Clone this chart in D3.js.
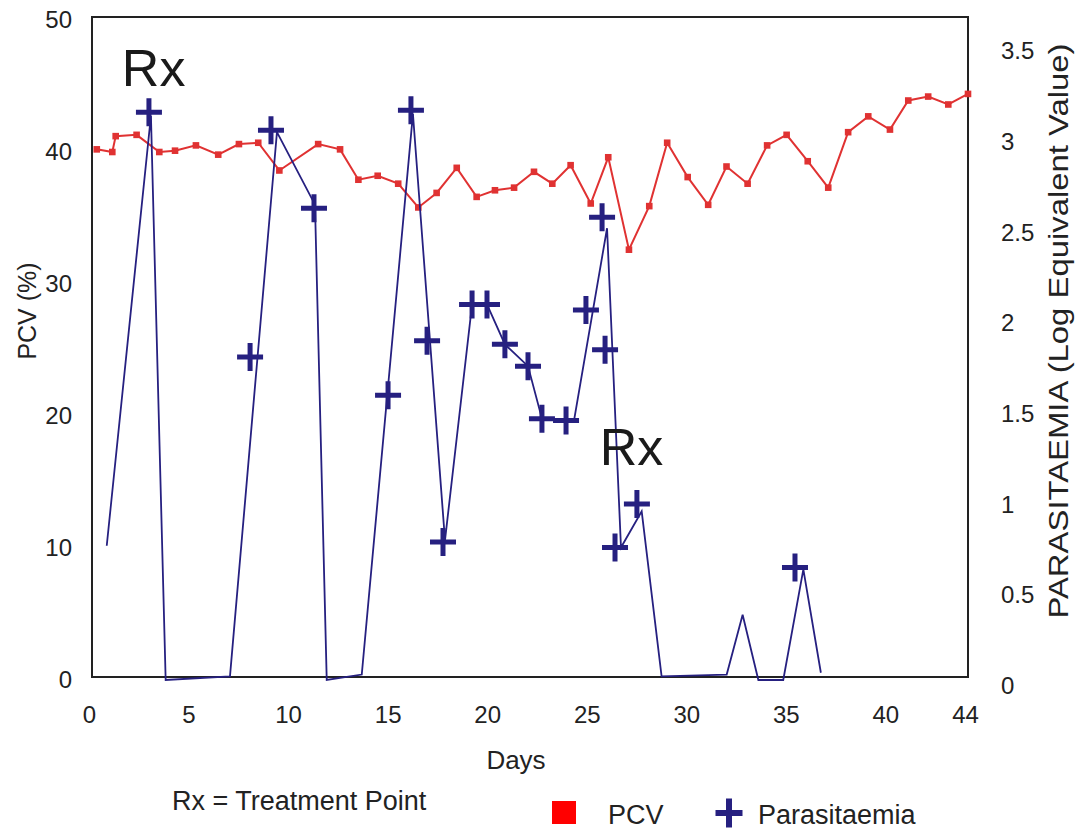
<!DOCTYPE html>
<html>
<head>
<meta charset="utf-8">
<script src="https://cdn.jsdelivr.net/npm/d3@7"></script>
<style>
  html, body { margin: 0; padding: 0; background: #fff; }
  svg { display: block; font-family: "Liberation Sans", Arial, sans-serif; }
</style>
</head>
<body>
<svg id="chart" width="1081" height="834"></svg>
<script>
// ---- data ----
const xTicks = [0, 5, 10, 15, 20, 25, 30, 35, 40, 44];
const leftTicks = [0, 10, 20, 30, 40, 50];
const rightTicks = [0, 0.5, 1, 1.5, 2, 2.5, 3, 3.5];

const pcvDays = [0.24,1.02,1.19,2.24,3.38,4.17,5.22,6.34,7.38,8.35,9.41,11.36,12.46,13.38,14.35,15.38,16.39,17.31,18.32,19.32,20.24,21.20,22.20,23.12,24.04,25.05,25.93,26.97,27.99,28.89,29.92,30.95,31.87,32.93,33.91,34.89,35.95,36.98,37.98,38.99,40.08,41.00,42.00,43.01,44.0];
const pcvValues = [40.2,40.0,41.2,41.3,40.0,40.1,40.5,39.8,40.6,40.7,38.6,40.6,40.2,37.9,38.2,37.6,35.8,36.9,38.8,36.6,37.1,37.3,38.5,37.6,39.0,36.1,39.6,32.6,35.9,40.7,38.1,36.0,38.9,37.6,40.5,41.3,39.3,37.3,41.5,42.7,41.7,43.9,44.2,43.6,44.4];

const paraLineDays = [0.74,2.96,3.70,6.93,9.29,11.2,11.79,13.55,16.12,17.73,19.09,19.84,20.74,21.90,22.60,23.81,24.21,25.87,26.57,27.61,28.61,31.88,32.68,33.47,34.72,35.73,36.61];
const paraLineValues = [0.74,3.11,0,0.02,3.02,2.62,0,0.03,3.12,0.77,2.07,2.07,1.85,1.73,1.44,1.43,1.43,2.49,0.73,0.93,0.02,0.03,0.36,0,0,0.61,0.04];

const paraMarkDays = [2.86,7.94,8.99,11.15,14.87,16.02,16.83,17.63,19.09,19.84,20.74,21.90,22.60,23.81,24.81,25.62,25.77,26.27,27.37,35.31];
const paraMarkValues = [3.13,1.78,3.03,2.60,1.57,3.14,1.87,0.76,2.07,2.07,1.85,1.73,1.44,1.43,2.04,2.55,1.82,0.73,0.97,0.62];

const treatmentLabels = [
  {text: "Rx", day: 1.5, pcv: 45},
  {text: "Rx", day: 25.5, pcv: 16.3}
];

// ---- layout ----
const svg = d3.select("#chart");
const plot = {left: 92, right: 968, top: 17, bottom: 677};
const RED = "#e03232", NAVY = "#262080", TXT = "#222";

const x = d3.scaleLinear().domain([0, 44]).range([plot.left, plot.right]);
const yL = d3.scaleLinear().domain([0, 50]).range([680, 20]);
const yR = d3.scaleLinear().domain([0, 3.5]).range([680, 45]);

// frame
svg.append("rect")
  .attr("x", plot.left).attr("y", plot.top)
  .attr("width", plot.right - plot.left).attr("height", plot.bottom - plot.top)
  .attr("fill", "none").attr("stroke", "#222").attr("stroke-width", 2);

// axes (labels only)
function styleAxis(g) {
  g.select(".domain").remove();
  g.selectAll("line").remove();
  g.selectAll("text").attr("fill", TXT).style("font-size", "24px")
    .style("font-family", '"Liberation Sans", Arial, sans-serif');
}
svg.append("g").attr("transform", "translate(72,0)")
  .call(d3.axisLeft(yL).tickValues(leftTicks).tickSize(0).tickPadding(0).tickFormat(d3.format("d")))
  .call(styleAxis);
svg.append("g").attr("transform", "translate(1001,6)")
  .call(d3.axisRight(yR).tickValues(rightTicks).tickSize(0).tickPadding(0).tickFormat(d => String(d)))
  .call(styleAxis);
svg.append("g").attr("transform", "translate(-3,706)")
  .call(d3.axisBottom(x).tickValues(xTicks).tickSize(0).tickPadding(0).tickFormat(d3.format("d")))
  .call(styleAxis);

// axis titles
svg.append("text").attr("x", 516).attr("y", 769).attr("text-anchor", "middle")
  .attr("fill", TXT).style("font-size", "26px").text("Days");
svg.append("text").attr("transform", "translate(36,311) rotate(-90)").attr("text-anchor", "middle")
  .attr("fill", TXT).style("font-size", "25px").text("PCV (%)");
svg.append("text").attr("transform", "translate(1068,331) rotate(-90)").attr("text-anchor", "middle")
  .attr("fill", TXT).style("font-size", "28px")
  .attr("textLength", 575).attr("lengthAdjust", "spacingAndGlyphs")
  .text("PARASITAEMIA (Log Equivalent Value)");

// PCV line + squares
const pcvData = pcvDays.map((d, i) => ({d, v: pcvValues[i]}));
svg.append("path").datum(pcvData)
  .attr("fill", "none").attr("stroke", RED).attr("stroke-width", 2)
  .attr("d", d3.line().x(p => x(p.d)).y(p => yL(p.v)));
svg.append("g").selectAll("rect").data(pcvData).join("rect")
  .attr("x", p => x(p.d) - 3.3).attr("y", p => yL(p.v) - 3.3)
  .attr("width", 6.6).attr("height", 6.6).attr("fill", RED);

// Parasitaemia line
const paraLine = paraLineDays.map((d, i) => ({d, v: paraLineValues[i]}));
svg.append("path").datum(paraLine)
  .attr("fill", "none").attr("stroke", NAVY).attr("stroke-width", 1.8)
  .attr("stroke-linejoin", "miter")
  .attr("d", d3.line().x(p => x(p.d)).y(p => yR(p.v)));

// Parasitaemia cross markers
function crossPath(cx, cy, w, h) {
  return `M${cx - w / 2},${cy}H${cx + w / 2}M${cx},${cy - h / 2}V${cy + h / 2}`;
}
const paraMarks = paraMarkDays.map((d, i) => ({d, v: paraMarkValues[i]}));
svg.append("g").selectAll("path").data(paraMarks).join("path")
  .attr("d", p => crossPath(x(p.d), yR(p.v), 26, 28))
  .attr("stroke", NAVY).attr("stroke-width", 5).attr("fill", "none");

// Rx annotations
svg.append("g").selectAll("text").data(treatmentLabels).join("text")
  .attr("x", t => x(t.day)).attr("y", t => yL(t.pcv))
  .attr("fill", "#1a1a1a").style("font-size", "52px").text(t => t.text);

// footnote
svg.append("text").attr("x", 172).attr("y", 810).attr("fill", TXT)
  .style("font-size", "27px").text("Rx = Treatment Point");

// legend
svg.append("rect").attr("x", 552).attr("y", 801).attr("width", 24).attr("height", 23).attr("fill", "#ff0000");
svg.append("text").attr("x", 608).attr("y", 824).attr("fill", TXT).style("font-size", "27px").text("PCV");
svg.append("path").attr("d", crossPath(729, 813, 27, 29)).attr("stroke", NAVY).attr("stroke-width", 6).attr("fill", "none");
svg.append("text").attr("x", 758).attr("y", 824).attr("fill", TXT).style("font-size", "27px").text("Parasitaemia");
</script>
</body>
</html>
